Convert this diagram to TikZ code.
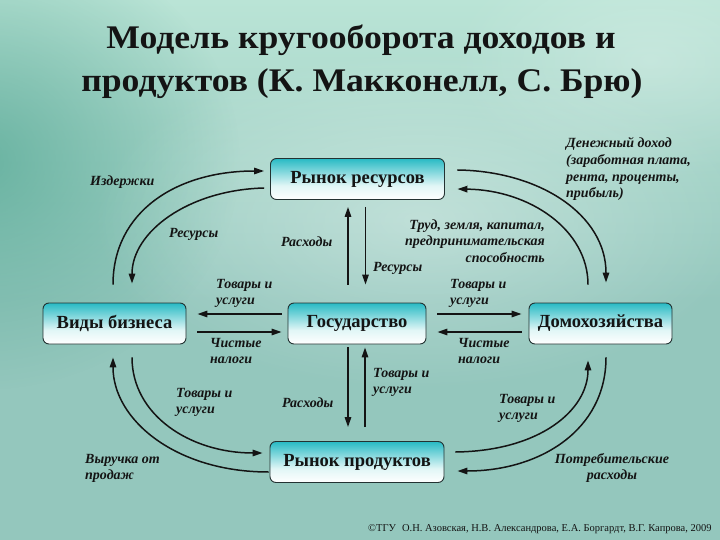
\documentclass[tikz,border=0pt]{standalone}
\usepackage{fontspec}
\setmainfont{Liberation Serif}
\usetikzlibrary{arrows.meta,shadings,fadings}
\definecolor{bgbase}{RGB}{148,199,189}
\definecolor{bgtop}{RGB}{186,228,214}
\definecolor{bgdark}{RGB}{80,165,145}
\definecolor{boxtop}{RGB}{40,186,196}
\definecolor{boxmid}{RGB}{225,246,246}
\definecolor{boxline}{RGB}{35,50,50}
\definecolor{ink}{RGB}{20,20,20}
\pgfdeclareverticalshading{boxsh}{100bp}{color(0bp)=(white); color(25bp)=(white); color(42bp)=(boxmid); color(75bp)=(boxtop); color(100bp)=(boxtop)}
\tikzfading[name=softblob, inner color=transparent!0, outer color=transparent!100]
\begin{document}
\begin{tikzpicture}[x=1pt,y=-1pt,
  box/.style={draw=boxline, line width=0.9pt, rounded corners=6pt, shade, shading=boxsh, inner sep=0pt,
    minimum height=41pt, font=\fontsize{18.5}{20}\selectfont\bfseries, text=ink},
  lab/.style={font=\fontsize{14}{16.5}\selectfont\bfseries\itshape, inner sep=0pt, text=ink, align=left, anchor=base west},
  arr/.style={draw=ink, line width=1.5pt, -{Triangle[length=10pt,width=6.5pt]}},
  ttl/.style={font=\fontsize{33}{40}\selectfont\bfseries, anchor=base, inner sep=0pt, text=ink},
]
\useasboundingbox (0,0) rectangle (720,540);
% background
\begin{scope}
\clip (0,0) rectangle (720,540);
\fill[bgbase] (0,0) rectangle (720,540);
\shade[top color=bgtop, bottom color=bgbase] (0,0) rectangle (720,300);
\fill[bgdark, opacity=0.7, path fading=softblob] (-20,160) ellipse [x radius=260, y radius=230];
\fill[white, opacity=0.35, path fading=softblob] (420,220) ellipse [x radius=330, y radius=170];
\fill[white, opacity=0.25, path fading=softblob] (650,60) ellipse [x radius=200, y radius=120];
\end{scope}

% title
\node[ttl] (title1) at (361,49) {\scalebox{1.08}[1]{Модель кругооборота доходов и}};
\node[ttl] (title2) at (362,92) {\scalebox{1.08}[1]{продуктов (К. Макконелл, С. Брю)}};

% boxes
\node[box, minimum width=174pt] (res) at (357.5,179) {Рынок ресурсов};
\node[box, minimum width=143pt] (biz) at (114.5,323.5) {Виды бизнеса};
\node[box, minimum width=138pt] (gov) at (357,323.5) {Государство};
\node[box, minimum width=143pt] (home) at (600.5,323.5) {Домохозяйства};
\node[box, minimum width=174pt] (prod) at (357,462) {Рынок продуктов};

% vertical arrows res <-> gov
\draw[arr, shorten <=18pt, shorten >=7pt] ([xshift=-9pt]gov.north) -- ([xshift=-9pt]gov.north |- res.south);
\draw[arr, shorten <=7pt, shorten >=18pt] ([xshift=8pt]res.south) -- ([xshift=8pt]res.south |- gov.north);
% vertical arrows gov <-> prod
\draw[arr, shorten <=3pt, shorten >=14pt] ([xshift=-9pt]gov.south) -- ([xshift=-9pt]gov.south |- prod.north);
\draw[arr, shorten <=14pt, shorten >=3pt] ([xshift=8pt]prod.north) -- ([xshift=8pt]prod.north |- gov.south);
% horizontal biz <-> gov
\draw[arr, shorten <=6pt, shorten >=11pt] ([yshift=9.5pt]gov.west) -- ([yshift=9.5pt]gov.west -| biz.east);
\draw[arr, shorten <=11pt, shorten >=6pt] ([yshift=-8.5pt]biz.east) -- ([yshift=-8.5pt]biz.east -| gov.west);
% horizontal gov <-> home
\draw[arr, shorten <=11pt, shorten >=7pt] ([yshift=9.5pt]gov.east) -- ([yshift=9.5pt]gov.east -| home.west);
\draw[arr, shorten <=7pt, shorten >=11pt] ([yshift=-8.5pt]home.west) -- ([yshift=-8.5pt]home.west -| gov.east);

% curved arrows top-left
\draw[arr] ([shift={(-1.5,-18)}]biz.north) .. controls (113,212) and (176,171) .. ([shift={(-6,-8)}]res.west);
\draw[arr] ([shift={(-6,9)}]res.west) .. controls (188,190) and (132,232) .. ([shift={(17.5,-19)}]biz.north);
% top-right
\draw[arr] ([shift={(12.5,-9)}]res.east) .. controls (540,171) and (606,215) .. ([shift={(5.5,-20)}]home.north);
\draw[arr] ([shift={(-12.5,-18)}]home.north) .. controls (588,230) and (530,190) .. ([shift={(12.5,10)}]res.east);
% bottom-left
\draw[arr] ([shift={(-1,10)}]prod.west) .. controls (176,472) and (113,420) .. ([shift={(-1.5,13)}]biz.south);
\draw[arr] ([shift={(17.5,13)}]biz.south) .. controls (132,415) and (190,453) .. ([shift={(-7,-9)}]prod.west);
% bottom-right
\draw[arr] ([shift={(11,-10)}]prod.east) .. controls (540,451) and (588,410) .. ([shift={(-12.5,16)}]home.south);
\draw[arr] ([shift={(5.5,13)}]home.south) .. controls (606,430) and (540,471) .. ([shift={(13,9)}]prod.east);

% labels (anchor = baseline of last line)
\node[lab] (l1) at (90,186) {Издержки};
\node[lab] (l2) at (169,237) {Ресурсы};
\node[lab] (l3) at (281,247) {Расходы};
\node[lab] (l4) at (373,271) {Ресурсы};
\node[lab, anchor=base east, align=right] (l5) at (545,262) {Труд, земля, капитал,\\предпринимательская\\способность};
\node[lab] (l6) at (566,197.5) {Денежный доход\\(заработная плата,\\рента, проценты,\\прибыль)};
\node[lab] (l7) at (216,304.5) {Товары и\\услуги};
\node[lab] (l8) at (450,304.5) {Товары и\\услуги};
\node[lab] (l9) at (210,363.5) {Чистые\\налоги};
\node[lab] (l10) at (458,363.5) {Чистые\\налоги};
\node[lab] (l11) at (176,413.5) {Товары и\\услуги};
\node[lab] (l12) at (282,407) {Расходы};
\node[lab] (l13) at (373,393.5) {Товары и\\услуги};
\node[lab] (l14) at (85,479.5) {Выручка от\\продаж};
\node[lab] (l15) at (499,419.5) {Товары и\\услуги};
\node[lab, anchor=base, align=center] (l16) at (612,479.5) {Потребительские\\расходы};

% footer
\node[font=\fontsize{10.5}{12}\selectfont, inner sep=0pt, anchor=base west, text=ink] (foot) at (368,531)
  {©ТГУ\hspace{6pt}О.Н. Азовская, Н.В. Александрова, Е.А. Боргардт, В.Г. Капрова, 2009};
\end{tikzpicture}
\end{document}
